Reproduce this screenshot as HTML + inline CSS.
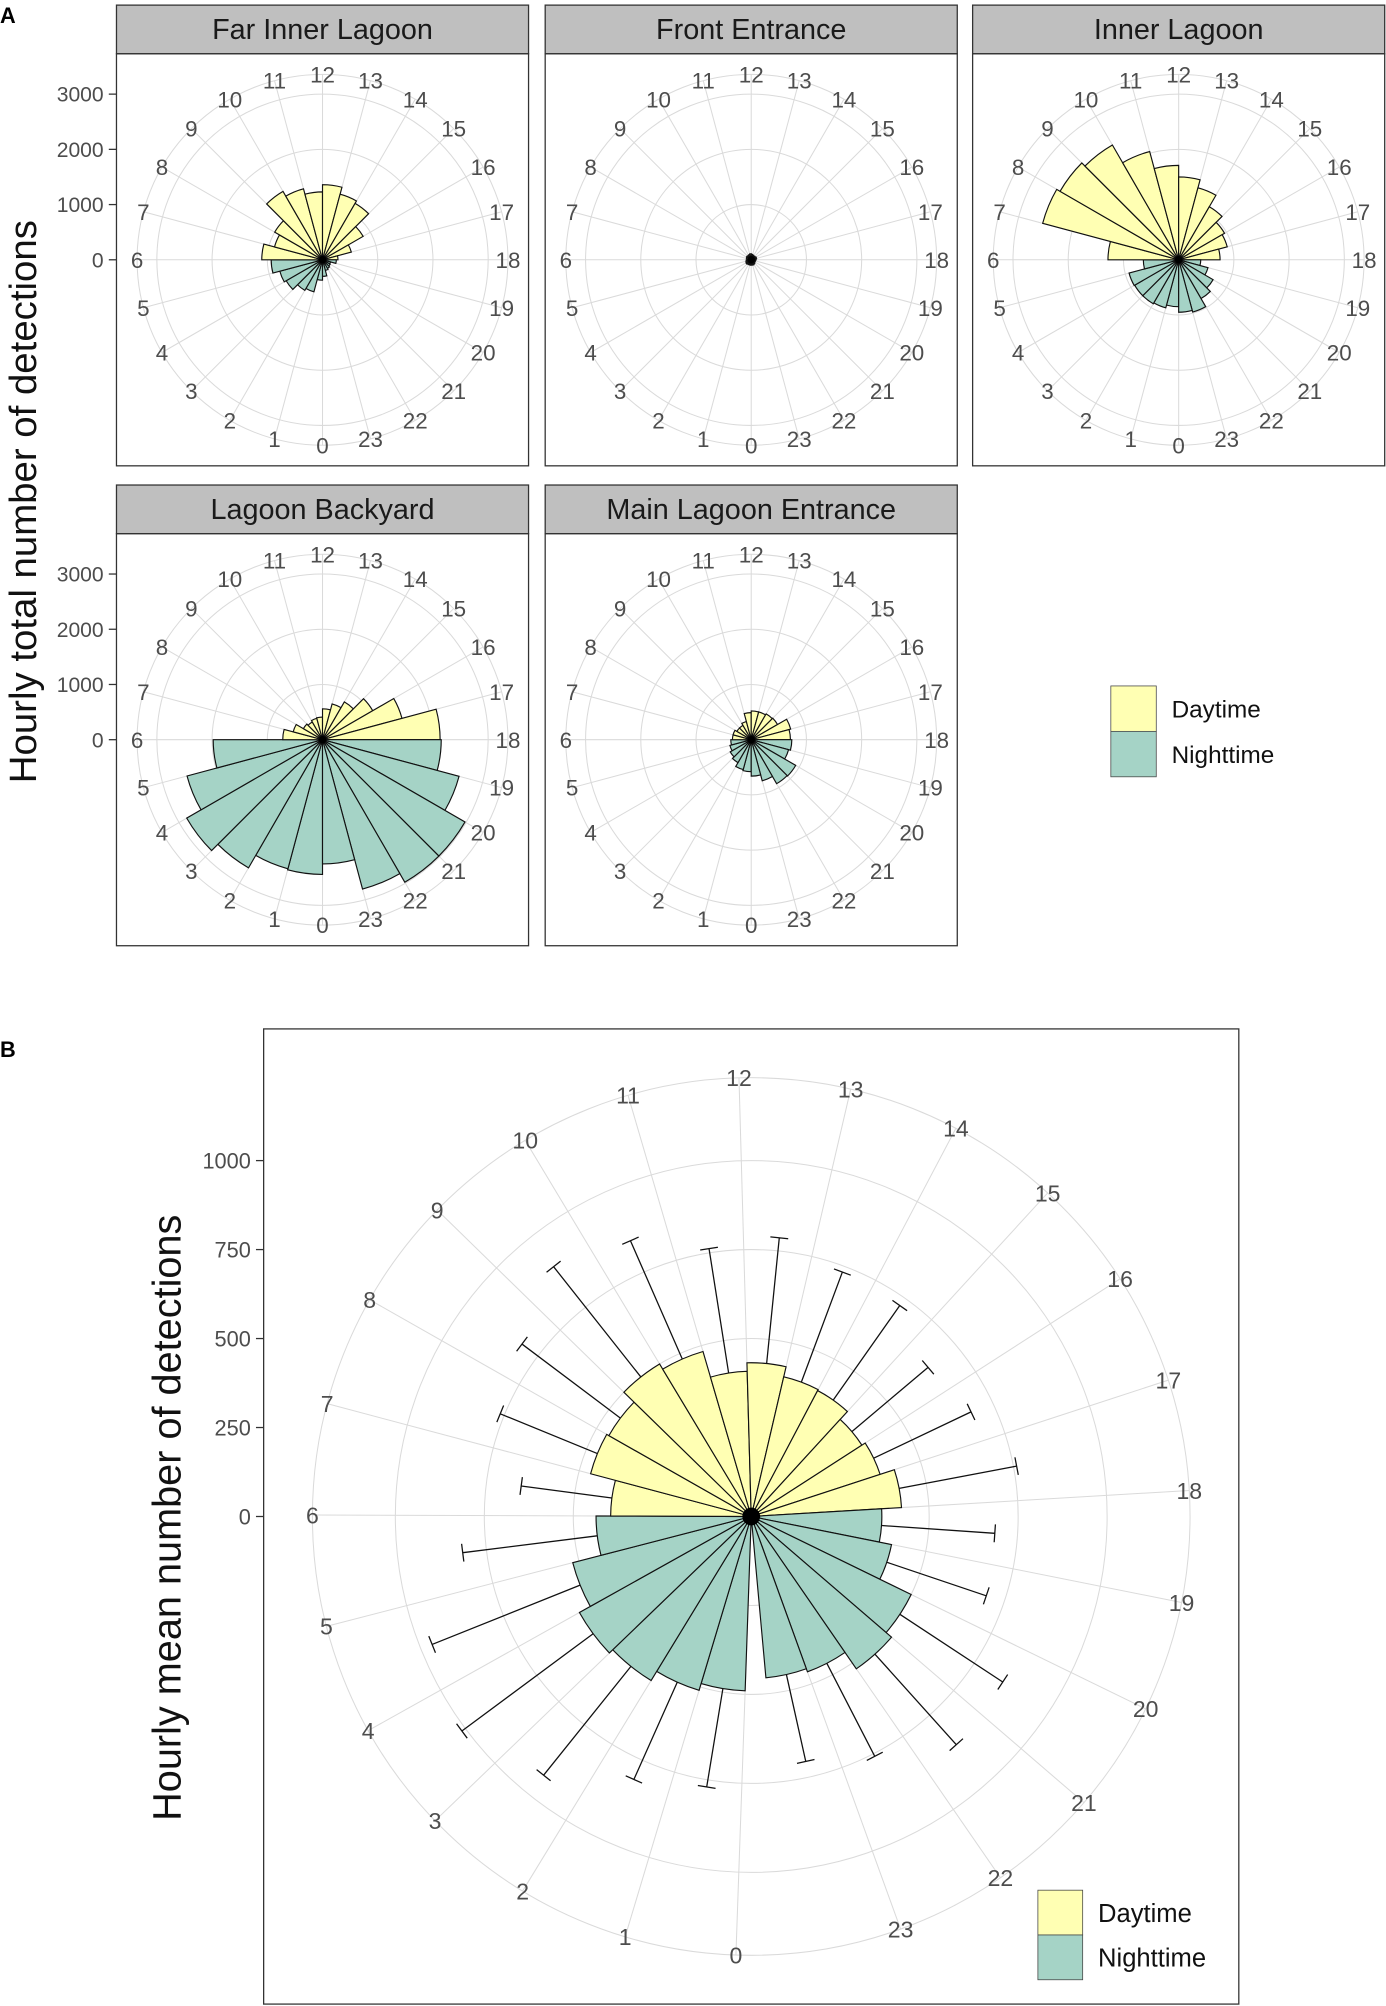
<!DOCTYPE html>
<html><head><meta charset="utf-8"><style>
html,body{margin:0;padding:0;background:#fff;}
svg{display:block;font-family:"Liberation Sans",Arial,sans-serif;}
</style></head><body>
<svg id="chart" width="1386" height="2006" viewBox="0 0 1083 1567.5" xmlns="http://www.w3.org/2000/svg"></svg>
<script>
const hours = [0,1,2,3,4,5,6,7,8,9,10,11,12,13,14,15,16,17,18,19,20,21,22,23];
const farInnerLagoon = [370,600,640,760,800,930,1100,900,1000,1430,1330,1230,1360,1230,1180,850,540,280,250,150,160,180,200,300];
const frontEntrance = [100,90,100,110,100,90,80,90,100,90,100,110,100,90,80,90,100,90,80,70,80,90,100,90];
const innerLagoon = [850,900,920,920,930,640,1280,2550,2480,2400,2030,1710,1500,1350,1110,960,910,750,400,550,720,810,980,950];
const lagoonBackyard = [2440,2420,2680,2840,2540,1980,720,550,400,370,400,410,560,670,790,1050,1490,2130,2150,2560,2980,2980,2800,2250];
const mainLagoonEntrance = [580,560,480,440,400,370,340,340,300,300,340,490,520,520,540,550,740,710,735,700,930,920,770,660];
const meanDetections = [490,510,540,553,518,436,395,467,460,500,483,408,432,403,400,370,381,423,367,402,500,520,464,455];
const meanPlusSd = [770,809,932,1012,966,817,652,762,806,895,846,762,787,733,725,650,684,759,686,697,846,862,758,705];
const totalTicks = [0,1000,2000,3000];
const meanTicks = [0,250,500,750,1000];
const facetNames = ["Far Inner Lagoon","Front Entrance","Inner Lagoon","Lagoon Backyard","Main Lagoon Entrance"];

const NS = "http://www.w3.org/2000/svg";
const svg = document.getElementById('chart');
const DAY = "#ffffb3", NIGHT = "#a5d3c6", GRID = "#dadada";
function mk(tag, attrs, parent){const e=document.createElementNS(NS,tag);for(const k in attrs)e.setAttribute(k,attrs[k]);(parent||svg).appendChild(e);return e;}
// angle (degrees clockwise from bottom) for an hour value
const thetaA = h => h*15;
const thetaB = h => 2 + h*14.7;
function isDay(h){return h>=6&&h<=17;}

function drawPolar(g,x0,y0,W,maxV,vals,gridVals,fs,slug,errs,theta){
  const cx=x0+W/2, cy=y0+W/2, R=0.4*W, rs=v=>v/maxV*R;
  const pt=(h,r)=>{const a=theta(h)*Math.PI/180;return [cx-r*Math.sin(a),cy+r*Math.cos(a)];};
  gridVals.forEach(v=>{ if(v>0){const c=mk('circle',{cx:cx,cy:cy,r:rs(v),fill:'none',stroke:GRID,'stroke-width':0.8},g);
    
    }});
  const oc=mk('circle',{cx:cx,cy:cy,r:0.45*W,fill:'none',stroke:GRID,'stroke-width':0.8},g);
  
  
  hours.forEach(h=>{const p=pt(h,0.45*W);const l=mk('line',{x1:cx,y1:cy,x2:p[0],y2:p[1],stroke:GRID,'stroke-width':0.8},g);
    
    });
  hours.forEach((h,i)=>{const r=rs(vals[i]);const a=pt(h,r),b=pt(h+1,r);
    const p=mk('path',{d:`M${cx},${cy}L${a[0]},${a[1]}A${r},${r} 0 0 1 ${b[0]},${b[1]}Z`,fill:isDay(h)?DAY:NIGHT,stroke:'#111','stroke-width':0.9,'stroke-linejoin':'miter'},g);
    
    });
  if(errs){hours.forEach((h,i)=>{const r1=rs(vals[i]),r2=rs(errs[i]);const a=pt(h+0.5,r1),b=pt(h+0.5,r2);
    const ang=theta(h+0.5)*Math.PI/180, px=Math.cos(ang)*7, py=Math.sin(ang)*7;
    const e=mk('path',{d:`M${a[0]},${a[1]}L${b[0]},${b[1]}M${b[0]-px},${b[1]-py}L${b[0]+px},${b[1]+py}`,stroke:'#111','stroke-width':1,fill:'none'},g);
    
    });}
  const d=mk('circle',{cx:cx,cy:cy,r:W/110,fill:'#000'},g);
  
  
  hours.forEach(h=>{const p=pt(h,0.45*W);const t=mk('text',{x:p[0],y:p[1]+fs*0.36,'text-anchor':'middle','font-size':fs,fill:'#4d4d4d'},g);t.textContent=h;
    
    });
  const bd=mk('rect',{x:x0,y:y0,width:W,height:W,fill:'none',stroke:'#333','stroke-width':1},g);
  
  
  return {cx,cy,rs};
}
function yTicks(g,x0,cy,rs,ticks,fs){ticks.forEach(v=>{const y=cy-rs(v);
  const l=mk('line',{x1:x0-6,y1:y,x2:x0,y2:y,stroke:'#333','stroke-width':1},g);
  
  
  const t=mk('text',{x:x0-10,y:y+fs*0.36,'text-anchor':'end','font-size':fs,fill:'#4d4d4d'},g);t.textContent=v;
  
  });}

// Panel A
const facetData=[farInnerLagoon,frontEntrance,innerLagoon,lagoonBackyard,mainLagoonEntrance];
const facetPos=[[91,4],[426,4],[760,4],[91,379],[426,379]];
const W=322, STRIP=38, MAXA=2985;
facetData.forEach((vals,i)=>{
  const [x0,sy]=facetPos[i];
  const slug=facetNames[i].toLowerCase().replace(/ /g,'-');
  const g=mk('g',{});
  
  
  const s=mk('rect',{x:x0,y:sy,width:W,height:STRIP,fill:'#bfbfbf',stroke:'#333','stroke-width':1},g);
  
  
  const st=mk('text',{x:x0+W/2,y:sy+STRIP/2+7.5,'text-anchor':'middle','font-size':22.5,fill:'#1a1a1a'},g);st.textContent=facetNames[i];
  
  
  const r=drawPolar(g,x0,sy+STRIP,W,MAXA,vals,totalTicks,17.5,slug,null,thetaA);
  if(i===0||i===3) yTicks(g,x0,r.cy,r.rs,totalTicks,16.5);
});
function legend(x,y,k,fs){
  const g=mk('g',{});
  
  
  [['Daytime',DAY],['Nighttime',NIGHT]].forEach((e,i)=>{
    const r=mk('rect',{x:x,y:y+i*k,width:k,height:k,fill:e[1],stroke:'#444','stroke-width':0.6},g);
    
    
    const t=mk('text',{x:x+k+12,y:y+i*k+k/2+fs*0.36,'font-size':fs,fill:'#111'},g);t.textContent=e[0];
    
    
  });
}
legend(868,536,35.5,19);

const ta=mk('text',{x:0,y:0,transform:'translate(28,392) rotate(-90)','text-anchor':'middle','font-size':30,fill:'#111'});ta.textContent='Hourly total number of detections';


const la=mk('text',{x:0,y:18,'font-size':17,'font-weight':'bold',fill:'#000'});la.textContent='A';



// Panel B
const gB=mk('g',{});


const rb=drawPolar(gB,206,804,762,1096,meanDetections,meanTicks,18,'mean',meanPlusSd,thetaB);
yTicks(gB,206,rb.cy,rb.rs,meanTicks,17);
legend(811,1477,35,20);
const tb=mk('text',{x:0,y:0,transform:'translate(141,1186) rotate(-90)','text-anchor':'middle','font-size':31,fill:'#111'});tb.textContent='Hourly mean number of detections';


const lb=mk('text',{x:0,y:826,'font-size':17,'font-weight':'bold',fill:'#000'});lb.textContent='B';


</script>
</body></html>
